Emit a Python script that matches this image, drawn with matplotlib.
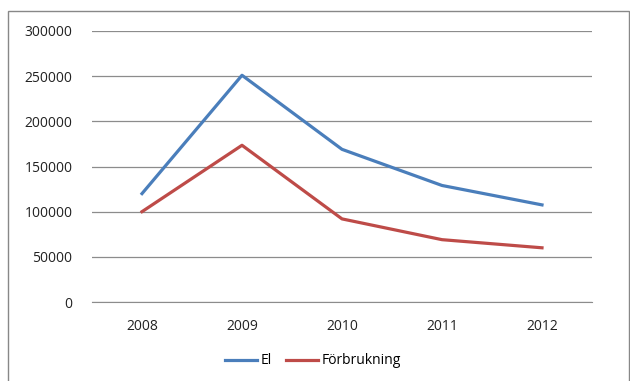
import matplotlib.pyplot as plt
from matplotlib.patches import Rectangle

years = ['2008', '2009', '2010', '2011', '2012']
el = [120000, 251000, 169000, 129000, 107500]
forbrukning = [100000, 173500, 92000, 69000, 60000]

plt.rcParams['font.family'] = ['Open Sans', 'DejaVu Sans']

fig = plt.figure(figsize=(6.3, 3.81), dpi=100)
ax = fig.add_axes([92 / 630, 1 - 302 / 381, 500 / 630, 271 / 381])

x = range(len(years))
ax.plot(x, el, color='#4A7EBB', lw=2.3, label='El')
ax.plot(x, forbrukning, color='#BE4B48', lw=2.3, label='Förbrukning')

ax.set_xlim(-0.5, len(years) - 0.5)
ax.set_ylim(0, 300000)
ax.set_yticks(range(0, 300001, 50000))
ax.set_xticks(list(x))
ax.set_xticklabels(years)
ax.grid(axis='y', color='#8c8c8c', lw=0.9)
ax.set_axisbelow(True)
for s in ['top', 'right', 'left']:
    ax.spines[s].set_visible(False)
ax.spines['bottom'].set_color('#8c8c8c')
ax.tick_params(length=0, labelsize=10, colors='#222222')
ax.tick_params(axis='y', pad=14)
ax.tick_params(axis='x', pad=12)

fig.legend(loc='center', bbox_to_anchor=(313 / 630, 1 - 361 / 381), ncol=2,
           frameon=False, fontsize=10, handlelength=2.3, columnspacing=1.0,
           handletextpad=0.3)

fig.patches.append(Rectangle((8 / 630, -0.01), 621 / 630, 1 - 11 / 381 + 0.01,
                             transform=fig.transFigure, fill=False,
                             edgecolor='#888888', lw=1.0))

fig.savefig('out.png', dpi=100)
